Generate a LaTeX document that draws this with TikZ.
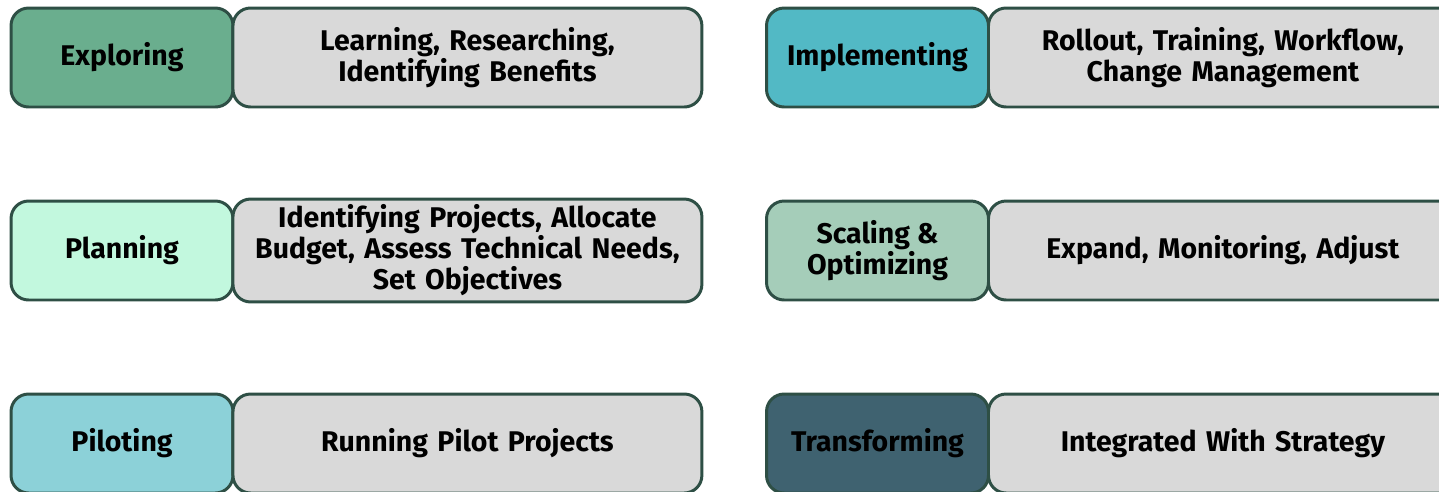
\documentclass[tikz,border=0pt]{standalone}
\usepackage{fontspec}
\setmainfont{Fira Sans}
\usepackage{xcolor}
\usetikzlibrary{positioning}

\definecolor{edge}{HTML}{2E4F45}
\definecolor{descgray}{HTML}{D9D9D9}
\definecolor{explore}{HTML}{6AAE8E}
\definecolor{plan}{HTML}{C2F8DE}
\definecolor{pilot}{HTML}{8CD1D8}
\definecolor{implement}{HTML}{52B9C5}
\definecolor{scale}{HTML}{A5CDB9}
\definecolor{transform}{HTML}{3F6270}

\begin{document}
\begin{tikzpicture}[
    x=0.02cm, y=-0.02cm,
    stage/.style={rectangle, rounded corners=10pt, draw=edge, line width=1.7pt, outer sep=0pt,
        minimum width=4.44cm, minimum height=1.98cm, align=center,
        font=\fontsize{16.2}{17.6}\selectfont\bfseries},
    detail/.style={stage, fill=descgray, minimum width=9.38cm, text width=9cm}
]
    \useasboundingbox (0,0) rectangle (1439,491);
    \clip (0,0) rectangle (1439,491);

    % left column
    \node[stage, fill=explore] (explore) at (122,57.5) {Exploring};
    \node[detail, right=0pt of explore] (exploreD) {Learning, Researching,\\Identifying Benefits};

    \node[stage, fill=plan] (plan) at (122,250.5) {Planning};
    \node[detail, right=0pt of plan] (planD) {Identifying Projects, Allocate\\Budget, Assess Technical Needs,\\Set Objectives};

    \node[stage, fill=pilot] (pilot) at (122,443.5) {Piloting};
    \node[detail, right=0pt of pilot] (pilotD) {Running Pilot Projects};

    % right column
    \node[stage, fill=implement] (implement) at (877.5,57.5) {Implementing};
    \node[detail, right=0pt of implement] (implementD) {Rollout, Training, Workflow,\\Change Management};

    \node[stage, fill=scale] (scaling) at (877.5,250.5) {Scaling \&\\Optimizing};
    \node[detail, right=0pt of scaling] (scalingD) {Expand, Monitoring, Adjust};

    \node[stage, fill=transform] (transform) at (877.5,443.5) {Transforming};
    \node[detail, right=0pt of transform] (transformD) {Integrated With Strategy};
\end{tikzpicture}
\end{document}
